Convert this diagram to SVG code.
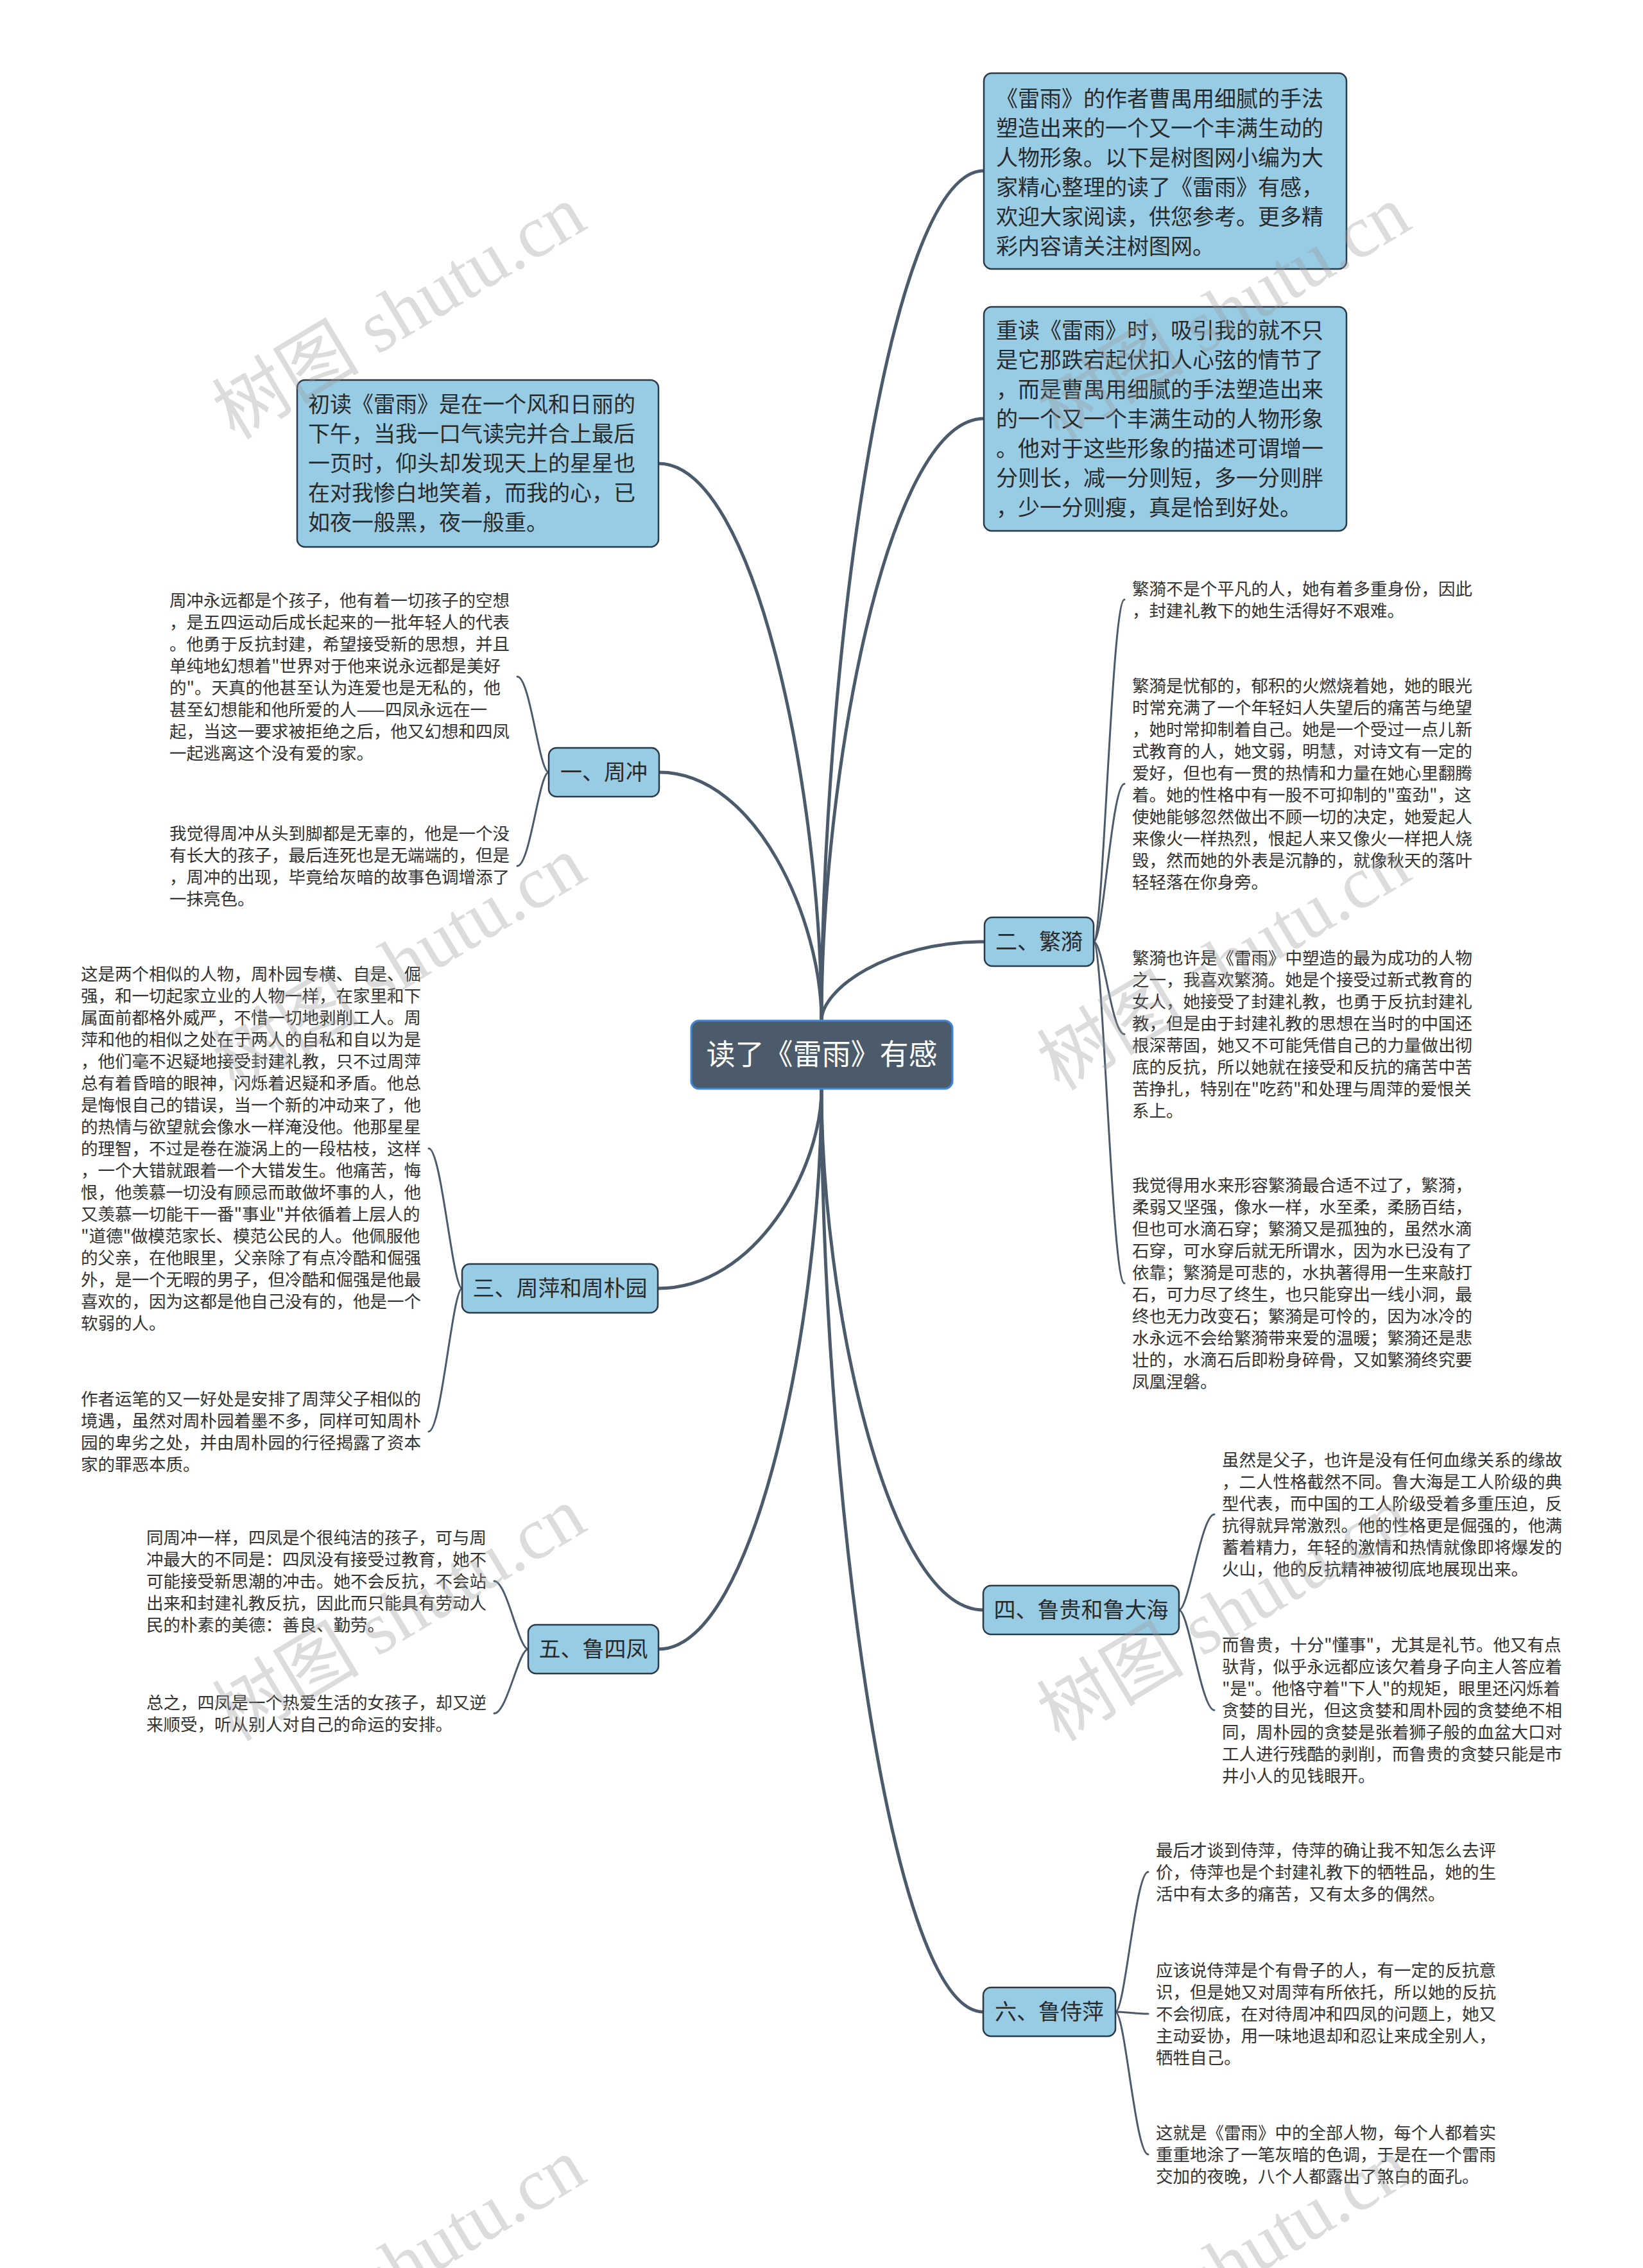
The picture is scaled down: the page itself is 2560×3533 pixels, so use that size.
<svg xmlns="http://www.w3.org/2000/svg" width="2560" height="3533" viewBox="0 0 2560 3533">
<defs>
<style>
.bg{fill:#ffffff}
.box{fill:#98cbe4;stroke:#2b3a48;stroke-width:2.5}
.center{fill:#4b5b6b;stroke:#3f86d8;stroke-width:3}
.main{fill:none;stroke:#4b5b6b;stroke-width:5;stroke-linecap:round}
.leaf{fill:none;stroke:#4b5b6b;stroke-width:3;stroke-linecap:round}
.t{font-family:"Noto Sans CJK SC","Noto Sans",sans-serif;fill:#2a2a2a}
.bt{font-size:34px}
.nt{font-size:34px;text-anchor:middle}
.ct{font-size:45px;text-anchor:middle;fill:#ffffff}
.lt{font-size:26.5px;fill:#333333}
.wm{font-family:"Liberation Serif","Noto Sans CJK SC",serif;font-size:115px;fill:#9a9a9a;fill-opacity:0.35}
</style>
</defs>
<rect class="bg" x="0" y="0" width="2560" height="3533"/>

<g id="connectors">
<path class="main" d="M1280 1590 C1280 1060 1381 266 1533 266"/>
<path class="main" d="M1280 1590 C1280 1215 1381 652 1533 652"/>
<path class="main" d="M1280 1590 C1280 1243 1178 722 1026 722"/>
<path class="main" d="M1280 1590 C1280 1435 1179 1203 1027 1203"/>
<path class="main" d="M1280 1590 C1280 1541 1382 1467 1534 1467"/>
<path class="main" d="M1280 1696 C1280 1820 1178 2007 1025 2007"/>
<path class="main" d="M1280 1696 C1280 2021 1381 2508 1532 2508"/>
<path class="main" d="M1280 1696 C1280 2045 1178 2569 1026 2569"/>
<path class="main" d="M1280 1696 C1280 2271 1381 3134 1532 3134"/>

<path class="leaf" d="M855 1203 C840 1203 826 1054 806 1054"/>
<path class="leaf" d="M855 1203 C840 1203 826 1349 806 1349"/>
<path class="leaf" d="M1704 1467 C1719 1467 1732 934 1752 934"/>
<path class="leaf" d="M1704 1467 C1719 1467 1732 1221 1752 1221"/>
<path class="leaf" d="M1704 1467 C1719 1467 1732 1611 1752 1611"/>
<path class="leaf" d="M1704 1467 C1719 1467 1732 1999 1752 1999"/>
<path class="leaf" d="M720 2007 C705 2007 688 1789 668 1789"/>
<path class="leaf" d="M720 2007 C705 2007 688 2230 668 2230"/>
<path class="leaf" d="M1837 2508 C1852 2508 1872 2359 1892 2359"/>
<path class="leaf" d="M1837 2508 C1852 2508 1872 2664 1892 2664"/>
<path class="leaf" d="M823 2569 C808 2569 790 2463 770 2463"/>
<path class="leaf" d="M823 2569 C808 2569 790 2669 770 2669"/>
<path class="leaf" d="M1738 3134 C1753 3134 1769 2916 1789 2916"/>
<path class="leaf" d="M1738 3134 C1753 3134 1769 3137 1789 3137"/>
<path class="leaf" d="M1738 3134 C1753 3134 1769 3356 1789 3356"/>
</g>

<g id="center">
<rect class="center" x="1077" y="1590" width="407" height="106" rx="12"/>
<text class="t ct" x="1280.5" y="1659">读了《雷雨》有感</text>
</g>

<g id="intro1">
<rect class="box" x="1533" y="114" width="565" height="305" rx="12"/>
<text class="t bt" x="1552" y="166">
<tspan x="1552" dy="0">《雷雨》的作者曹禺用细腻的手法</tspan>
<tspan x="1552" dy="46">塑造出来的一个又一个丰满生动的</tspan>
<tspan x="1552" dy="46">人物形象。以下是树图网小编为大</tspan>
<tspan x="1552" dy="46">家精心整理的读了《雷雨》有感，</tspan>
<tspan x="1552" dy="46">欢迎大家阅读，供您参考。更多精</tspan>
<tspan x="1552" dy="46">彩内容请关注树图网。</tspan>
</text>
</g>

<g id="intro2">
<rect class="box" x="1533" y="478" width="565" height="349" rx="12"/>
<text class="t bt" x="1552" y="527">
<tspan x="1552" dy="0">重读《雷雨》时，吸引我的就不只</tspan>
<tspan x="1552" dy="46">是它那跌宕起伏扣人心弦的情节了</tspan>
<tspan x="1552" dy="46">，而是曹禺用细腻的手法塑造出来</tspan>
<tspan x="1552" dy="46">的一个又一个丰满生动的人物形象</tspan>
<tspan x="1552" dy="46">。他对于这些形象的描述可谓增一</tspan>
<tspan x="1552" dy="46">分则长，减一分则短，多一分则胖</tspan>
<tspan x="1552" dy="46">，少一分则瘦，真是恰到好处。</tspan>
</text>
</g>

<g id="intro3">
<rect class="box" x="463" y="592" width="563" height="260" rx="12"/>
<text class="t bt" x="480" y="642">
<tspan x="480" dy="0">初读《雷雨》是在一个风和日丽的</tspan>
<tspan x="480" dy="46">下午，当我一口气读完并合上最后</tspan>
<tspan x="480" dy="46">一页时，仰头却发现天上的星星也</tspan>
<tspan x="480" dy="46">在对我惨白地笑着，而我的心，已</tspan>
<tspan x="480" dy="46">如夜一般黑，夜一般重。</tspan>
</text>
</g>

<g id="node-zhouchong">
<rect class="box" x="855" y="1165" width="172" height="76" rx="12"/>
<text class="t nt" x="941" y="1215">一、周冲</text>
</g>
<g id="leaf-zhouchong-1">
<text class="t lt" x="264" y="944.5">
<tspan x="264" dy="0">周冲永远都是个孩子，他有着一切孩子的空想</tspan>
<tspan x="264" dy="34">，是五四运动后成长起来的一批年轻人的代表</tspan>
<tspan x="264" dy="34">。他勇于反抗封建，希望接受新的思想，并且</tspan>
<tspan x="264" dy="34">单纯地幻想着"世界对于他来说永远都是美好</tspan>
<tspan x="264" dy="34">的"。天真的他甚至认为连爱也是无私的，他</tspan>
<tspan x="264" dy="34">甚至幻想能和他所爱的人——四凤永远在一</tspan>
<tspan x="264" dy="34">起，当这一要求被拒绝之后，他又幻想和四凤</tspan>
<tspan x="264" dy="34">一起逃离这个没有爱的家。</tspan>
</text>
</g>
<g id="leaf-zhouchong-2">
<text class="t lt" x="264" y="1307.5">
<tspan x="264" dy="0">我觉得周冲从头到脚都是无辜的，他是一个没</tspan>
<tspan x="264" dy="34">有长大的孩子，最后连死也是无端端的，但是</tspan>
<tspan x="264" dy="34">，周冲的出现，毕竟给灰暗的故事色调增添了</tspan>
<tspan x="264" dy="34">一抹亮色。</tspan>
</text>
</g>

<g id="node-fanyi">
<rect class="box" x="1534" y="1429" width="170" height="76" rx="12"/>
<text class="t nt" x="1619" y="1479">二、繁漪</text>
</g>
<g id="leaf-fanyi-1">
<text class="t lt" x="1764" y="926.5">
<tspan x="1764" dy="0">繁漪不是个平凡的人，她有着多重身份，因此</tspan>
<tspan x="1764" dy="34">，封建礼教下的她生活得好不艰难。</tspan>
</text>
</g>
<g id="leaf-fanyi-2">
<text class="t lt" x="1764" y="1077.5">
<tspan x="1764" dy="0">繁漪是忧郁的，郁积的火燃烧着她，她的眼光</tspan>
<tspan x="1764" dy="34">时常充满了一个年轻妇人失望后的痛苦与绝望</tspan>
<tspan x="1764" dy="34">，她时常抑制着自己。她是一个受过一点儿新</tspan>
<tspan x="1764" dy="34">式教育的人，她文弱，明慧，对诗文有一定的</tspan>
<tspan x="1764" dy="34">爱好，但也有一贯的热情和力量在她心里翻腾</tspan>
<tspan x="1764" dy="34">着。她的性格中有一股不可抑制的"蛮劲"，这</tspan>
<tspan x="1764" dy="34">使她能够忽然做出不顾一切的决定，她爱起人</tspan>
<tspan x="1764" dy="34">来像火一样热烈，恨起人来又像火一样把人烧</tspan>
<tspan x="1764" dy="34">毁，然而她的外表是沉静的，就像秋天的落叶</tspan>
<tspan x="1764" dy="34">轻轻落在你身旁。</tspan>
</text>
</g>
<g id="leaf-fanyi-3">
<text class="t lt" x="1764" y="1501.5">
<tspan x="1764" dy="0">繁漪也许是《雷雨》中塑造的最为成功的人物</tspan>
<tspan x="1764" dy="34">之一，我喜欢繁漪。她是个接受过新式教育的</tspan>
<tspan x="1764" dy="34">女人，她接受了封建礼教，也勇于反抗封建礼</tspan>
<tspan x="1764" dy="34">教，但是由于封建礼教的思想在当时的中国还</tspan>
<tspan x="1764" dy="34">根深蒂固，她又不可能凭借自己的力量做出彻</tspan>
<tspan x="1764" dy="34">底的反抗，所以她就在接受和反抗的痛苦中苦</tspan>
<tspan x="1764" dy="34">苦挣扎，特别在"吃药"和处理与周萍的爱恨关</tspan>
<tspan x="1764" dy="34">系上。</tspan>
</text>
</g>
<g id="leaf-fanyi-4">
<text class="t lt" x="1764" y="1855.5">
<tspan x="1764" dy="0">我觉得用水来形容繁漪最合适不过了，繁漪，</tspan>
<tspan x="1764" dy="34">柔弱又坚强，像水一样，水至柔，柔肠百结，</tspan>
<tspan x="1764" dy="34">但也可水滴石穿；繁漪又是孤独的，虽然水滴</tspan>
<tspan x="1764" dy="34">石穿，可水穿后就无所谓水，因为水已没有了</tspan>
<tspan x="1764" dy="34">依靠；繁漪是可悲的，水执著得用一生来敲打</tspan>
<tspan x="1764" dy="34">石，可力尽了终生，也只能穿出一线小洞，最</tspan>
<tspan x="1764" dy="34">终也无力改变石；繁漪是可怜的，因为冰冷的</tspan>
<tspan x="1764" dy="34">水永远不会给繁漪带来爱的温暖；繁漪还是悲</tspan>
<tspan x="1764" dy="34">壮的，水滴石后即粉身碎骨，又如繁漪终究要</tspan>
<tspan x="1764" dy="34">凤凰涅磐。</tspan>
</text>
</g>

<g id="node-zhouping">
<rect class="box" x="720" y="1969" width="305" height="76" rx="12"/>
<text class="t nt" x="872.5" y="2019">三、周萍和周朴园</text>
</g>
<g id="leaf-zhouping-1">
<text class="t lt" x="126" y="1526.5">
<tspan x="126" dy="0">这是两个相似的人物，周朴园专横、自是、倔</tspan>
<tspan x="126" dy="34">强，和一切起家立业的人物一样，在家里和下</tspan>
<tspan x="126" dy="34">属面前都格外威严，不惜一切地剥削工人。周</tspan>
<tspan x="126" dy="34">萍和他的相似之处在于两人的自私和自以为是</tspan>
<tspan x="126" dy="34">，他们毫不迟疑地接受封建礼教，只不过周萍</tspan>
<tspan x="126" dy="34">总有着昏暗的眼神，闪烁着迟疑和矛盾。他总</tspan>
<tspan x="126" dy="34">是悔恨自己的错误，当一个新的冲动来了，他</tspan>
<tspan x="126" dy="34">的热情与欲望就会像水一样淹没他。他那星星</tspan>
<tspan x="126" dy="34">的理智，不过是卷在漩涡上的一段枯枝，这样</tspan>
<tspan x="126" dy="34">，一个大错就跟着一个大错发生。他痛苦，悔</tspan>
<tspan x="126" dy="34">恨，他羡慕一切没有顾忌而敢做坏事的人，他</tspan>
<tspan x="126" dy="34">又羡慕一切能干一番"事业"并依循着上层人的</tspan>
<tspan x="126" dy="34">"道德"做模范家长、模范公民的人。他佩服他</tspan>
<tspan x="126" dy="34">的父亲，在他眼里，父亲除了有点冷酷和倔强</tspan>
<tspan x="126" dy="34">外，是一个无暇的男子，但冷酷和倔强是他最</tspan>
<tspan x="126" dy="34">喜欢的，因为这都是他自己没有的，他是一个</tspan>
<tspan x="126" dy="34">软弱的人。</tspan>
</text>
</g>
<g id="leaf-zhouping-2">
<text class="t lt" x="126" y="2188.5">
<tspan x="126" dy="0">作者运笔的又一好处是安排了周萍父子相似的</tspan>
<tspan x="126" dy="34">境遇，虽然对周朴园着墨不多，同样可知周朴</tspan>
<tspan x="126" dy="34">园的卑劣之处，并由周朴园的行径揭露了资本</tspan>
<tspan x="126" dy="34">家的罪恶本质。</tspan>
</text>
</g>

<g id="node-lugui">
<rect class="box" x="1532" y="2470" width="305" height="76" rx="12"/>
<text class="t nt" x="1684.5" y="2520">四、鲁贵和鲁大海</text>
</g>
<g id="leaf-lugui-1">
<text class="t lt" x="1904" y="2283.5">
<tspan x="1904" dy="0">虽然是父子，也许是没有任何血缘关系的缘故</tspan>
<tspan x="1904" dy="34">，二人性格截然不同。鲁大海是工人阶级的典</tspan>
<tspan x="1904" dy="34">型代表，而中国的工人阶级受着多重压迫，反</tspan>
<tspan x="1904" dy="34">抗得就异常激烈。他的性格更是倔强的，他满</tspan>
<tspan x="1904" dy="34">蓄着精力，年轻的激情和热情就像即将爆发的</tspan>
<tspan x="1904" dy="34">火山，他的反抗精神被彻底地展现出来。</tspan>
</text>
</g>
<g id="leaf-lugui-2">
<text class="t lt" x="1904" y="2571.5">
<tspan x="1904" dy="0">而鲁贵，十分"懂事"，尤其是礼节。他又有点</tspan>
<tspan x="1904" dy="34">驮背，似乎永远都应该欠着身子向主人答应着</tspan>
<tspan x="1904" dy="34">"是"。他恪守着"下人"的规矩，眼里还闪烁着</tspan>
<tspan x="1904" dy="34">贪婪的目光，但这贪婪和周朴园的贪婪绝不相</tspan>
<tspan x="1904" dy="34">同，周朴园的贪婪是张着狮子般的血盆大口对</tspan>
<tspan x="1904" dy="34">工人进行残酷的剥削，而鲁贵的贪婪只能是市</tspan>
<tspan x="1904" dy="34">井小人的见钱眼开。</tspan>
</text>
</g>

<g id="node-sifeng">
<rect class="box" x="823" y="2531" width="203" height="76" rx="12"/>
<text class="t nt" x="924.5" y="2581">五、鲁四凤</text>
</g>
<g id="leaf-sifeng-1">
<text class="t lt" x="228" y="2404.5">
<tspan x="228" dy="0">同周冲一样，四凤是个很纯洁的孩子，可与周</tspan>
<tspan x="228" dy="34">冲最大的不同是：四凤没有接受过教育，她不</tspan>
<tspan x="228" dy="34">可能接受新思潮的冲击。她不会反抗，不会站</tspan>
<tspan x="228" dy="34">出来和封建礼教反抗，因此而只能具有劳动人</tspan>
<tspan x="228" dy="34">民的朴素的美德：善良、勤劳。</tspan>
</text>
</g>
<g id="leaf-sifeng-2">
<text class="t lt" x="228" y="2661.5">
<tspan x="228" dy="0">总之，四凤是一个热爱生活的女孩子，却又逆</tspan>
<tspan x="228" dy="34">来顺受，听从别人对自己的命运的安排。</tspan>
</text>
</g>

<g id="node-shiping">
<rect class="box" x="1532" y="3096" width="206" height="76" rx="12"/>
<text class="t nt" x="1635" y="3146">六、鲁侍萍</text>
</g>
<g id="leaf-shiping-1">
<text class="t lt" x="1801" y="2891.5">
<tspan x="1801" dy="0">最后才谈到侍萍，侍萍的确让我不知怎么去评</tspan>
<tspan x="1801" dy="34">价，侍萍也是个封建礼教下的牺牲品，她的生</tspan>
<tspan x="1801" dy="34">活中有太多的痛苦，又有太多的偶然。</tspan>
</text>
</g>
<g id="leaf-shiping-2">
<text class="t lt" x="1801" y="3078.5">
<tspan x="1801" dy="0">应该说侍萍是个有骨子的人，有一定的反抗意</tspan>
<tspan x="1801" dy="34">识，但是她又对周萍有所依托，所以她的反抗</tspan>
<tspan x="1801" dy="34">不会彻底，在对待周冲和四凤的问题上，她又</tspan>
<tspan x="1801" dy="34">主动妥协，用一味地退却和忍让来成全别人，</tspan>
<tspan x="1801" dy="34">牺牲自己。</tspan>
</text>
</g>
<g id="leaf-shiping-3">
<text class="t lt" x="1801" y="3331.5">
<tspan x="1801" dy="0">这就是《雷雨》中的全部人物，每个人都着实</tspan>
<tspan x="1801" dy="34">重重地涂了一笔灰暗的色调，于是在一个雷雨</tspan>
<tspan x="1801" dy="34">交加的夜晚，八个人都露出了煞白的面孔。</tspan>
</text>
</g>

<g id="watermarks">
<text class="wm" transform="translate(642 520) rotate(-31)" text-anchor="middle">树图 shutu.cn</text>
<text class="wm" transform="translate(1927 520) rotate(-31)" text-anchor="middle">树图 shutu.cn</text>
<text class="wm" transform="translate(642 1534) rotate(-31)" text-anchor="middle">树图 shutu.cn</text>
<text class="wm" transform="translate(1927 1534) rotate(-31)" text-anchor="middle">树图 shutu.cn</text>
<text class="wm" transform="translate(642 2548) rotate(-31)" text-anchor="middle">树图 shutu.cn</text>
<text class="wm" transform="translate(1927 2548) rotate(-31)" text-anchor="middle">树图 shutu.cn</text>
<text class="wm" transform="translate(642 3562) rotate(-31)" text-anchor="middle">树图 shutu.cn</text>
<text class="wm" transform="translate(1927 3562) rotate(-31)" text-anchor="middle">树图 shutu.cn</text>
</g>
</svg>
